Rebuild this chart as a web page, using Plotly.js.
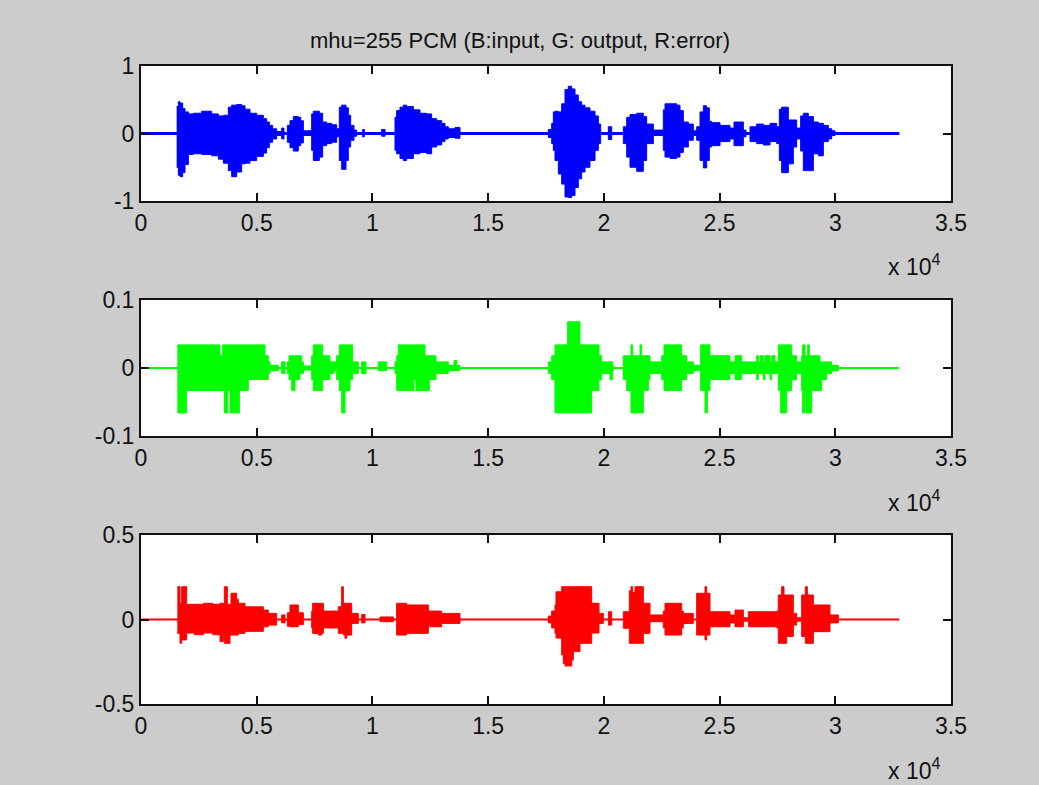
<!DOCTYPE html>
<html>
<head>
<meta charset="utf-8">
<script src="https://cdn.plot.ly/plotly-3.0.1.min.js"></script>
<style>
  html, body { margin: 0; padding: 0; background: #cccccc; }
  #chart { width: 1039px; height: 785px; }
</style>
</head>
<body>
<div id="chart"></div>
<script>
// mu-law (mhu=255) PCM: input speech, quantized output and quantization error.
// Each waveform is stored as an amplitude envelope: sample index, upper and lower extent.

const signalLength = 32768;

const xTickVals = [0, 5000, 10000, 15000, 20000, 25000, 30000, 35000];
const xTickText = ['0', '0.5', '1', '1.5', '2', '2.5', '3', '3.5'];

// Input (blue)
const inputPos = [1541, 1613, 1685, 1801, 1901, 2046, 2262, 2622, 3054, 3342, 3558, 3774, 3918, 4134, 4350, 4494, 4710, 4998, 5286, 5430, 5546, 5689, 5862, 6078, 6179, 6323, 6438, 6582, 6799, 6899, 7015, 7375, 7447, 7562, 7706, 7850, 8023, 8239, 8455, 8570, 8671, 8858, 8959, 9060, 9204, 9319, 9578, 9650, 10399, 10543, 10975, 11047, 11191, 11335, 11480, 11768, 12056, 12344, 12560, 12776, 12992, 13136, 13280, 13568, 13784,
  17601, 17745, 17817, 17889, 18033, 18177, 18321, 18465, 18609, 18753, 18897, 19041, 19185, 19401, 19618, 19762, 19862, 20194, 20338, 20842, 20986, 21130, 21418, 21706, 21850, 22138, 22570, 22642, 22858, 23146, 23290, 23434, 23650, 23866, 24011, 24155, 24299, 24443, 24558, 24659, 25019, 25451, 25624, 26027, 26142, 26315, 26603, 26891, 27179, 27467, 27582, 27683, 27971, 28187, 28331, 28504, 28619, 28835, 29052, 29268, 29484, 29700, 29844, 29988];
const inputUpper = [0.40, 0.47, 0.45, 0.37, 0.32, 0.29, 0.30, 0.33, 0.29, 0.26, 0.27, 0.39, 0.42, 0.43, 0.41, 0.36, 0.30, 0.27, 0.22, 0.17, 0.12, 0.07, 0.03, 0.08, 0, 0.12, 0.19, 0.25, 0.24, 0.19, 0.04, 0.29, 0.33, 0.33, 0.30, 0.17, 0.15, 0.13, 0.07, 0.39, 0.42, 0.38, 0.27, 0.12, 0.05, 0, 0.06, 0, 0.06, 0, 0.24, 0.34, 0.39, 0.42, 0.40, 0.35, 0.30, 0.29, 0.22, 0.19, 0.15, 0.10, 0.07, 0.09, 0,
  0.06, 0.15, 0.32, 0.33, 0.32, 0.44, 0.65, 0.70, 0.66, 0.57, 0.47, 0.42, 0.38, 0.33, 0.26, 0.14, 0, 0.10, 0, 0.10, 0.24, 0.28, 0.30, 0.25, 0.14, 0.05, 0.35, 0.44, 0.44, 0.42, 0.34, 0.17, 0.14, 0.04, 0.10, 0.32, 0.41, 0.38, 0.18, 0.16, 0.12, 0.08, 0.17, 0.05, 0, 0.10, 0.14, 0.12, 0.15, 0.10, 0.36, 0.39, 0.20, 0.20, 0.08, 0.26, 0.30, 0.25, 0.17, 0.15, 0.12, 0.07, 0.04, 0];
const inputLower = [-0.50, -0.62, -0.64, -0.58, -0.46, -0.31, -0.30, -0.31, -0.33, -0.38, -0.44, -0.55, -0.64, -0.57, -0.45, -0.44, -0.40, -0.34, -0.29, -0.21, -0.13, -0.08, -0.03, -0.08, 0, -0.13, -0.21, -0.26, -0.18, -0.14, -0.03, -0.25, -0.40, -0.40, -0.35, -0.18, -0.15, -0.13, -0.05, -0.40, -0.53, -0.40, -0.20, -0.10, -0.04, 0, -0.05, 0, -0.04, 0, -0.25, -0.30, -0.37, -0.40, -0.37, -0.30, -0.28, -0.30, -0.20, -0.17, -0.12, -0.08, -0.06, -0.07, 0,
  -0.06, -0.15, -0.25, -0.40, -0.60, -0.75, -0.94, -0.95, -0.92, -0.80, -0.67, -0.57, -0.50, -0.40, -0.25, -0.15, 0, -0.09, 0, -0.15, -0.35, -0.50, -0.56, -0.40, -0.15, -0.03, -0.25, -0.35, -0.37, -0.35, -0.28, -0.20, -0.10, -0.03, -0.10, -0.40, -0.51, -0.40, -0.20, -0.18, -0.12, -0.08, -0.18, -0.05, 0, -0.12, -0.15, -0.17, -0.12, -0.15, -0.40, -0.58, -0.45, -0.20, -0.08, -0.26, -0.55, -0.55, -0.30, -0.33, -0.12, -0.08, -0.03, 0];

// Output (green), quantized levels
const outputPos = [1570, 1974, 3414, 3529, 3601, 3745, 3846, 4249, 4638, 5358, 5502, 5574, 5934, 6078, 6222, 6323, 6395, 6510, 6654, 6871, 6943, 7015, 7375, 7447, 7850, 8167, 8340, 8455, 8570, 8671, 8815, 9031, 9146, 9391, 9535, 9722, 10255, 10615, 10975, 11047, 11119, 11796, 11883, 12272, 12459, 12747, 13280, 13525, 13640, 13784,
  17601, 17745, 17889, 18434, 18969, 19474, 19791, 19906, 20266, 20381, 20410, 20842, 20986, 21173, 21245, 21562, 21634, 21706, 21922, 21994, 22498, 22599, 23362, 23578, 23866, 24183, 24371, 24472, 24587, 25451, 25667, 25955, 26243, 26603, 26675, 26747, 26891, 26963, 27179, 27251, 27395, 27539, 27640, 27899, 28115, 28331, 28547, 28590, 28691, 28735, 28807, 28879, 28979, 29339, 29411, 29628, 29844, 30132];
const outputUpper = [0.034, 0.034, 0.018, 0.034, 0.034, 0.034, 0.034, 0.034, 0.034, 0.018, 0.009, 0.004, 0, 0.009, 0, 0.009, 0.018, 0.018, 0.018, 0.018, 0.009, 0.003, 0.018, 0.034, 0.018, 0.009, 0.009, 0.018, 0.034, 0.034, 0.034, 0.034, 0.009, 0, 0.009, 0, 0.009, 0, 0.009, 0.018, 0.034, 0.034, 0.034, 0.018, 0.018, 0.009, 0.004, 0.011, 0.004, 0,
  0.009, 0.018, 0.034, 0.068, 0.034, 0.034, 0.018, 0.009, 0.009, 0.004, 0, 0.018, 0.018, 0.034, 0.018, 0.034, 0.018, 0.018, 0.018, 0.009, 0.018, 0.034, 0.018, 0.009, 0.004, 0.034, 0.034, 0.034, 0.018, 0.009, 0.018, 0.009, 0.009, 0.018, 0.009, 0.018, 0.009, 0.018, 0.009, 0.018, 0.009, 0.034, 0.034, 0.034, 0.018, 0.009, 0.018, 0.034, 0.018, 0.018, 0.034, 0.018, 0.018, 0.009, 0.009, 0.009, 0.004, 0];
const outputLower = [-0.066, -0.033, -0.033, -0.033, -0.066, -0.033, -0.066, -0.033, -0.017, -0.017, -0.008, -0.004, 0, -0.008, 0, -0.008, -0.017, -0.033, -0.017, -0.008, -0.008, -0.003, -0.017, -0.033, -0.017, -0.008, -0.004, -0.017, -0.033, -0.066, -0.033, -0.017, -0.008, 0, -0.008, 0, -0.004, 0, -0.008, -0.033, -0.033, -0.017, -0.033, -0.033, -0.017, -0.008, -0.004, -0.004, -0.004, 0,
  -0.008, -0.017, -0.066, -0.066, -0.066, -0.033, -0.017, -0.008, -0.017, -0.004, 0, -0.017, -0.033, -0.066, -0.066, -0.066, -0.066, -0.033, -0.017, -0.008, -0.017, -0.033, -0.017, -0.008, -0.004, -0.033, -0.066, -0.033, -0.017, -0.008, -0.017, -0.008, -0.008, -0.017, -0.008, -0.008, -0.017, -0.008, -0.017, -0.008, -0.008, -0.033, -0.066, -0.033, -0.017, -0.008, -0.033, -0.066, -0.033, -0.066, -0.066, -0.066, -0.033, -0.033, -0.017, -0.008, -0.004, 0];

// Error (red)
const errorPos = [1570, 1685, 1757, 1974, 2300, 2700, 3100, 3414, 3558, 3601, 3731, 3846, 3889, 4134, 4206, 4494, 5286, 5502, 5862, 6078, 6222, 6323, 6438, 6799, 7015, 7375, 7418, 7663, 7807, 7879, 8527, 8671, 8743, 8815, 8887, 9103, 9391, 9535, 9679, 10327, 10903, 11047, 11480, 12416, 12992, 13784,
  17601, 17745, 17889, 17932, 18177, 18249, 18321, 18609, 18681, 18969, 19474, 19791, 19978, 20194, 20338, 20842, 21101, 21173, 21245, 21346, 21706, 21994, 22570, 22642, 23362, 23434, 23866, 24011, 24371, 24443, 24587, 25451, 25667, 26027, 26243, 27467, 27539, 27683, 27784, 27899, 28187, 28331, 28547, 28706, 28792, 29052, 29772, 30132];
const errorUpper = [0.194, 0.096, 0.194, 0.09, 0.09, 0.096, 0.09, 0.096, 0.09, 0.194, 0.09, 0.09, 0.155, 0.12, 0.096, 0.075, 0.056, 0.036, 0, 0.027, 0, 0.04, 0.086, 0.04, 0, 0.05, 0.096, 0.096, 0.096, 0.05, 0.076, 0.194, 0.096, 0.096, 0.096, 0.036, 0, 0.03, 0, 0.015, 0, 0.096, 0.086, 0.05, 0.036, 0,
  0.02, 0.05, 0.086, 0.164, 0.194, 0.194, 0.194, 0.194, 0.194, 0.194, 0.096, 0.036, 0, 0.046, 0, 0.046, 0.17, 0.194, 0.16, 0.194, 0.096, 0.027, 0.05, 0.096, 0.05, 0.036, 0, 0.155, 0.194, 0.155, 0.046, 0.027, 0.056, 0.01, 0.046, 0.05, 0.145, 0.194, 0.145, 0.145, 0.036, 0.01, 0.145, 0.194, 0.145, 0.086, 0.027, 0];
const errorLower = [-0.082, -0.141, -0.121, -0.08, -0.09, -0.08, -0.09, -0.131, -0.08, -0.141, -0.141, -0.092, -0.092, -0.092, -0.082, -0.07, -0.043, -0.033, 0, -0.02, 0, -0.04, -0.043, -0.03, 0, -0.05, -0.082, -0.092, -0.082, -0.05, -0.082, -0.082, -0.092, -0.111, -0.092, -0.023, 0, -0.02, 0, -0.013, 0, -0.092, -0.082, -0.043, -0.023, 0,
  -0.02, -0.05, -0.082, -0.11, -0.21, -0.26, -0.275, -0.24, -0.19, -0.141, -0.08, -0.023, 0, -0.033, 0, -0.052, -0.141, -0.141, -0.141, -0.141, -0.082, -0.013, -0.05, -0.092, -0.05, -0.023, 0, -0.092, -0.121, -0.092, -0.043, -0.02, -0.043, -0.01, -0.043, -0.05, -0.141, -0.141, -0.141, -0.1, -0.033, -0.01, -0.1, -0.141, -0.141, -0.072, -0.02, 0];

const FONT = 'Liberation Sans, Arial, Helvetica, sans-serif';
const INK = '#111111';

function envelopeTraces(pos, upper, lower, color, baseWidth, xa, ya) {
  return [
    { x: pos, y: upper, xaxis: xa, yaxis: ya, type: 'scatter', mode: 'lines',
      line: { color: color, width: 1, shape: 'hv' }, hoverinfo: 'skip' },
    { x: pos, y: lower, xaxis: xa, yaxis: ya, type: 'scatter', mode: 'lines',
      line: { color: color, width: 1, shape: 'hv' }, fill: 'tonexty', fillcolor: color, hoverinfo: 'skip' },
    { x: [0, signalLength], y: [0, 0], xaxis: xa, yaxis: ya, type: 'scatter', mode: 'lines',
      line: { color: color, width: baseWidth }, hoverinfo: 'skip' }
  ];
}

const data = [].concat(
  envelopeTraces(inputPos, inputUpper, inputLower, '#0000ff', 3, 'x', 'y'),
  envelopeTraces(outputPos, outputUpper, outputLower, '#00ff00', 2, 'x2', 'y2'),
  envelopeTraces(errorPos, errorUpper, errorLower, '#ff0000', 2, 'x3', 'y3')
);

const W = 1039, H = 785;
const xDomain = [141 / W, 951 / W];

function xAxis(anchor) {
  return {
    domain: xDomain, anchor: anchor, range: [0, 35000],
    tickmode: 'array', tickvals: xTickVals, ticktext: xTickText,
    ticks: 'inside', ticklen: 8, tickwidth: 2, tickcolor: INK,
    showline: true, linecolor: INK, linewidth: 2, mirror: 'allticks',
    showgrid: false, zeroline: false,
    tickfont: { family: FONT, size: 23, color: INK }
  };
}
function yAxis(anchor, top, bottom, lim) {
  return {
    domain: [1 - bottom / H, 1 - top / H], anchor: anchor, range: [-lim, lim],
    tickmode: 'array', tickvals: [-lim, 0, lim], ticktext: [String(-lim), '0', String(lim)],
    ticks: 'inside', ticklen: 8, tickwidth: 2, tickcolor: INK,
    showline: true, linecolor: INK, linewidth: 2, mirror: 'allticks',
    showgrid: false, zeroline: false,
    tickfont: { family: FONT, size: 23, color: INK }
  };
}

function exponentNote(yPx) {
  return { xref: 'paper', yref: 'paper', x: 942 / W, y: 1 - yPx / H, xanchor: 'right', yanchor: 'middle',
    text: 'x 10<sup>4</sup>', showarrow: false, font: { family: FONT, size: 23, color: INK } };
}

const layout = {
  width: W, height: H,
  margin: { l: 0, r: 0, t: 0, b: 0 },
  paper_bgcolor: '#cccccc', plot_bgcolor: '#ffffff',
  showlegend: false,
  xaxis: xAxis('y'), yaxis: yAxis('x', 66, 201, 1),
  xaxis2: xAxis('y2'), yaxis2: yAxis('x2', 300, 436, 0.1),
  xaxis3: xAxis('y3'), yaxis3: yAxis('x3', 535, 704, 0.5),
  annotations: [
    { xref: 'paper', yref: 'paper', x: 0.5, y: 1 - 41 / H, xanchor: 'center', yanchor: 'middle',
      text: 'mhu=255 PCM (B:input, G: output, R:error)', showarrow: false,
      font: { family: FONT, size: 22, color: INK } },
    exponentNote(265), exponentNote(501), exponentNote(769)
  ]
};

Plotly.newPlot('chart', data, layout, { displayModeBar: false, staticPlot: true });
</script>
</body>
</html>
